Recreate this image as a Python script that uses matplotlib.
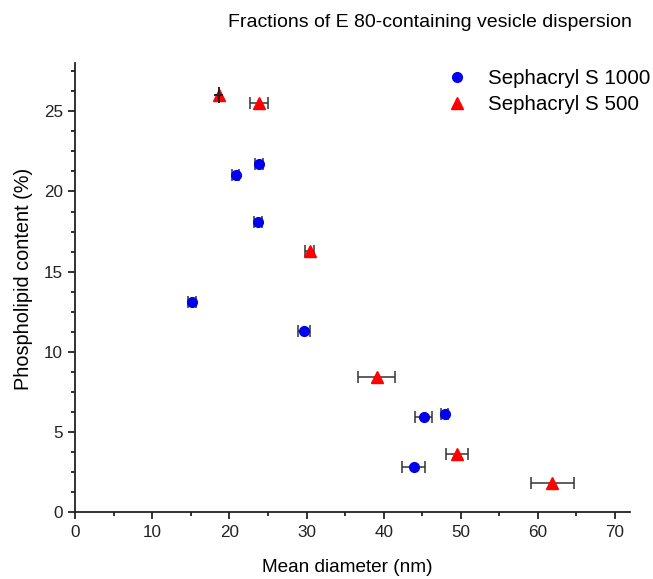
import matplotlib
matplotlib.use('Agg')
import matplotlib.pyplot as plt
from matplotlib.ticker import MultipleLocator

plt.rcParams['font.family'] = ['Liberation Sans', 'DejaVu Sans']

# Sephacryl S 1000
d_1000 = [15.1, 20.8, 23.8, 23.7, 29.7, 45.2, 47.9, 43.9]
p_1000 = [13.1, 21.0, 21.7, 18.1, 11.3, 5.9, 6.1, 2.8]
err_1000 = [0.5, 0.5, 0.5, 0.5, 0.8, 1.1, 0.4, 1.5]

# Sephacryl S 500
d_500 = [18.6, 23.8, 30.4, 39.1, 49.5, 61.9]
p_500 = [26.0, 25.5, 16.3, 8.4, 3.6, 1.8]
err_500 = [0.6, 1.2, 0.6, 2.4, 1.4, 2.8]
yerr_500 = [0.5, 0, 0, 0, 0, 0]

fig = plt.figure(figsize=(6.53, 5.79), dpi=100)
ax = fig.add_axes([0.1153, 0.1157, 0.85, 0.775])

ax.errorbar(d_1000, p_1000, xerr=err_1000, fmt='none', ecolor='#333333',
            elinewidth=1.1, capsize=4.5, capthick=1.1, zorder=2)
ax.errorbar(d_500[1:], p_500[1:], xerr=err_500[1:], fmt='none',
            ecolor='#333333', elinewidth=1.1, capsize=4.5, capthick=1.1, zorder=2)
ax.plot(d_1000, p_1000, 'o', color='#0000ee', ms=7, zorder=3,
        label='Sephacryl S 1000')
ax.plot(d_500, p_500, '^', color='#ff0000', ms=8, zorder=3,
        label='Sephacryl S 500')
# first S 500 point: small error cross drawn over the marker
ax.errorbar(d_500[:1], p_500[:1], xerr=err_500[:1], yerr=yerr_500[:1],
            fmt='none', ecolor='#222222', elinewidth=1.4, capsize=0, zorder=4)

ax.set_xlim(0, 72)
ax.set_ylim(0, 28)
ax.xaxis.set_major_locator(MultipleLocator(10))
ax.xaxis.set_minor_locator(MultipleLocator(5))
ax.yaxis.set_major_locator(MultipleLocator(5))
ax.yaxis.set_minor_locator(MultipleLocator(1.25))
ax.spines['top'].set_visible(False)
ax.spines['right'].set_visible(False)
for s in ['left', 'bottom']:
    ax.spines[s].set_linewidth(1.3)
    ax.spines[s].set_color('#222222')
ax.tick_params(which='major', direction='out', length=5, width=1.3,
               labelsize=12.3, colors='#222222', pad=4)
ax.tick_params(which='minor', direction='out', length=3, width=1.3,
               colors='#222222')

ax.set_xlabel('Mean diameter (nm)', fontsize=13.7)
ax.set_ylabel('Phospholipid content (%)', fontsize=14.3)
ax.xaxis.set_label_coords(0.49, -0.105)
ax.yaxis.set_label_coords(-0.077, 0.52)
fig.text(0.968, 0.962, 'Fractions of E 80-containing vesicle dispersion',
         ha='right', va='center', fontsize=14)

ax.legend(loc='upper right', bbox_to_anchor=(1.062, 1.02), frameon=False,
          fontsize=14.8, handletextpad=0.7, borderaxespad=0.3,
          labelspacing=0.35, handlelength=1.6)

fig.savefig('out.png', dpi=100)
